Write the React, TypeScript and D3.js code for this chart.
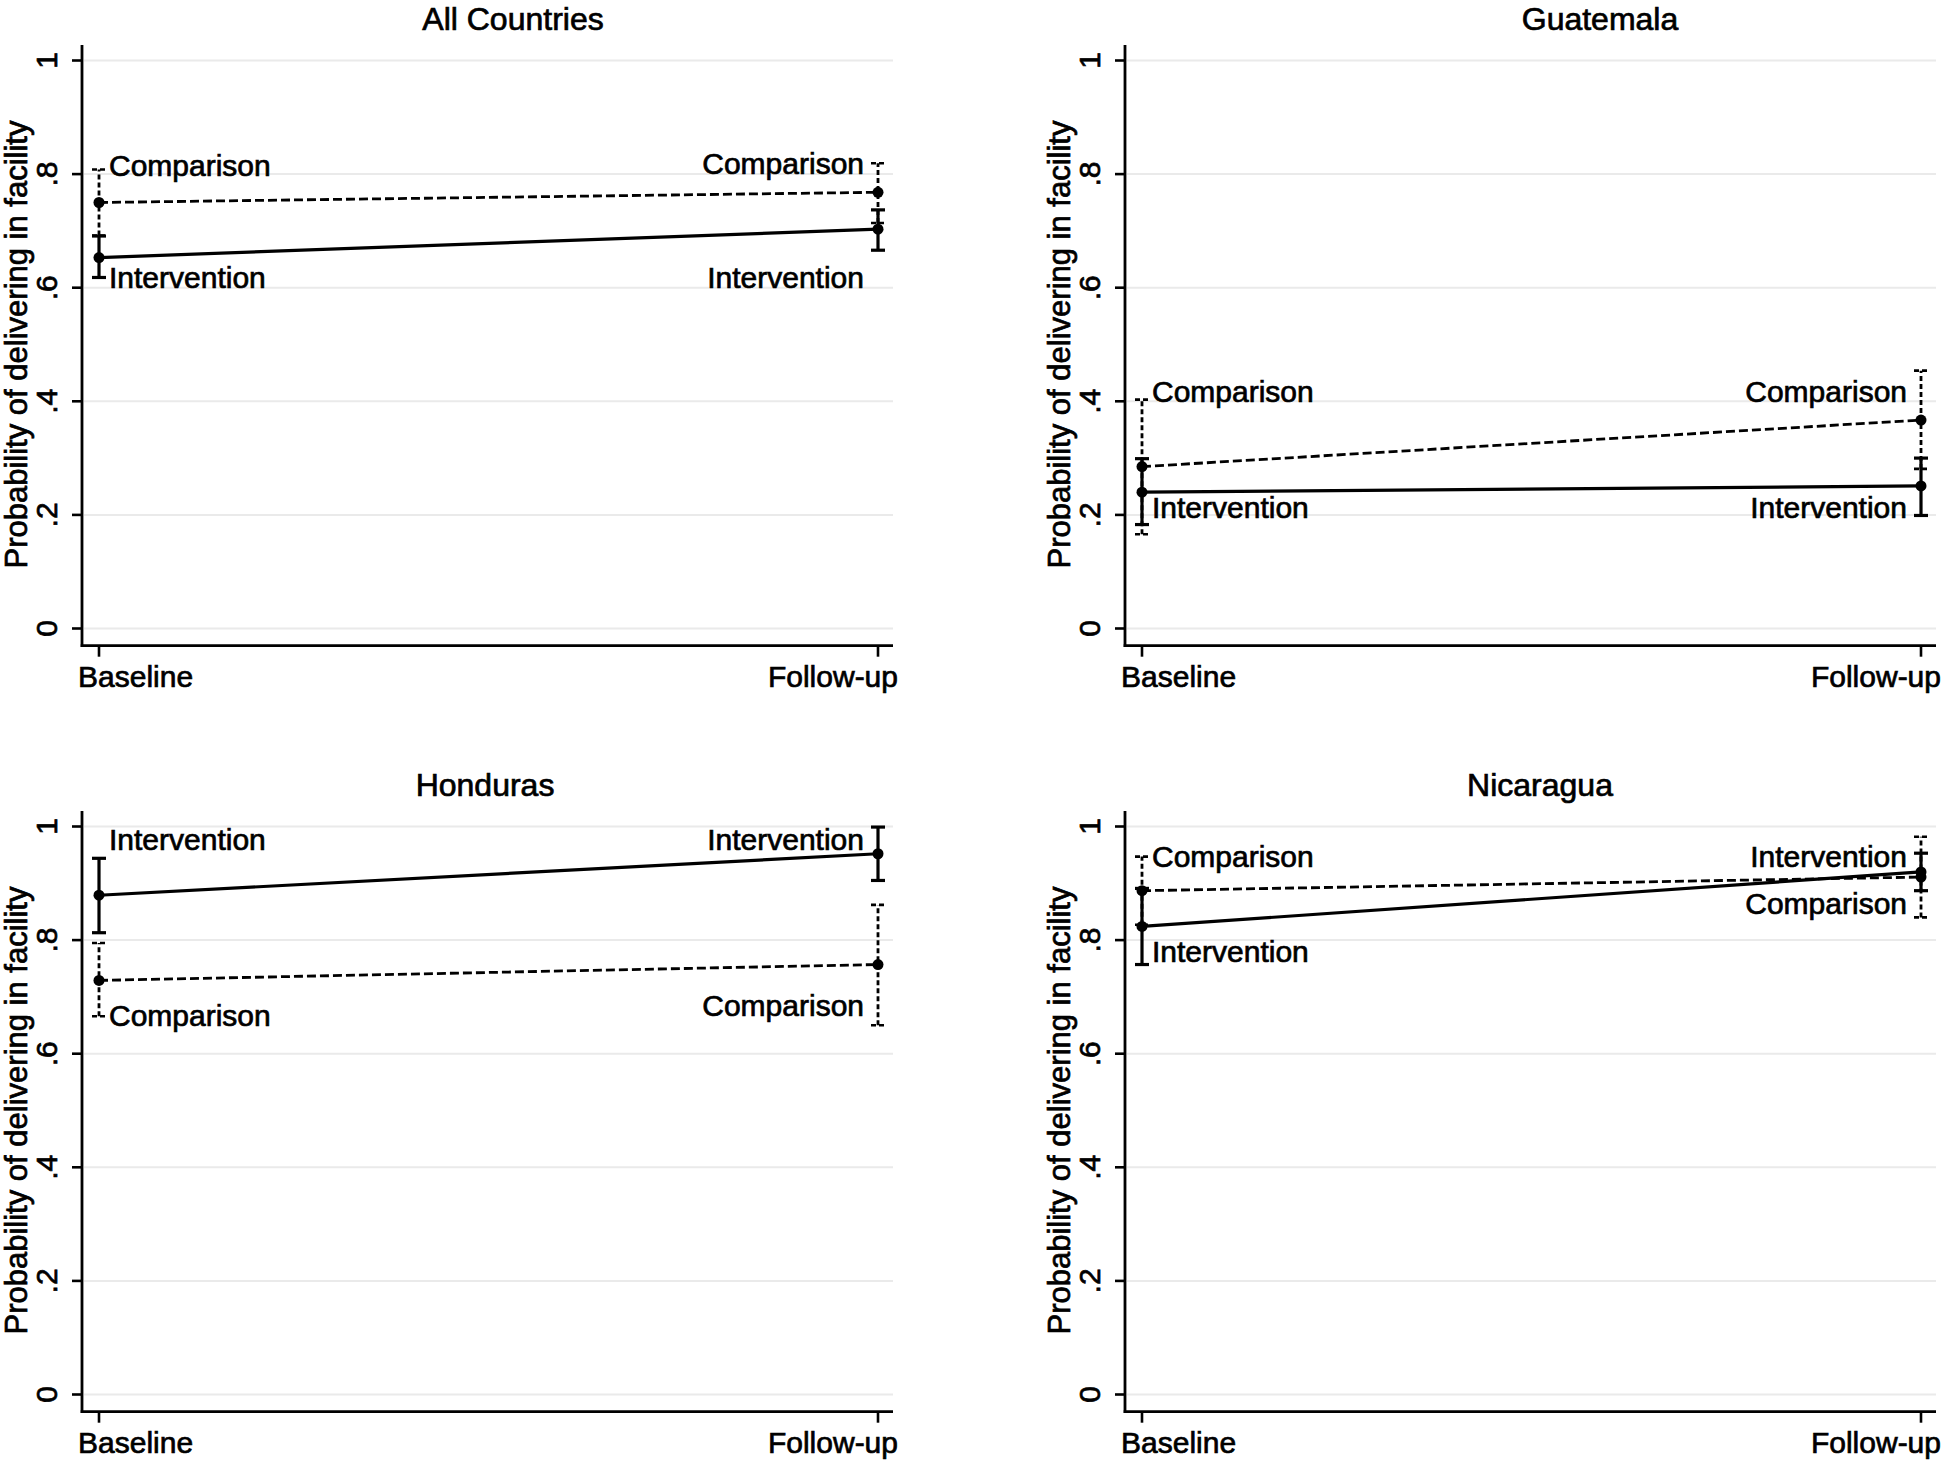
import React from "react";
import * as d3 from "d3";

// ---- data ----
const panelTitles = ["All Countries", "Guatemala", "Honduras", "Nicaragua"];
const periods = ["Baseline", "Follow-up"];
const groupNames = ["Intervention", "Comparison"];
const yTicks = [0, 0.2, 0.4, 0.6, 0.8, 1];

const interventionMean = [[0.653, 0.703], [0.240, 0.251], [0.879, 0.952], [0.824, 0.920]];
const interventionLow = [[0.618, 0.666], [0.183, 0.199], [0.813, 0.905], [0.757, 0.887]];
const interventionHigh = [[0.691, 0.737], [0.299, 0.300], [0.944, 0.999], [0.891, 0.953]];

const comparisonMean = [[0.750, 0.768], [0.285, 0.367], [0.729, 0.757], [0.887, 0.911]];
const comparisonLow = [[0.692, 0.714], [0.166, 0.281], [0.666, 0.650], [0.827, 0.840]];
const comparisonHigh = [[0.808, 0.819], [0.403, 0.454], [0.795, 0.862], [0.947, 0.982]];

// where each marker label sits (in probability units)
const interventionLabelAt = [[0.619, 0.619], [0.213, 0.214], [0.977, 0.977], [0.780, 0.947]];
const comparisonLabelAt = [[0.816, 0.820], [0.417, 0.417], [0.668, 0.686], [0.947, 0.865]];

// ---- layout ----
const W = 1952;
const H = 1460;
const FONT = "'Liberation Sans', Arial, Helvetica, sans-serif";
const panelOrigin = [
  [0, 0],
  [1043, 0],
  [0, 766],
  [1043, 766],
];
const titleCenter = [513, 1600, 485, 1540];
const AXIS_X = 82;
const PLOT_RIGHT = 893;
const Y_TOP_AXIS = 45;
const X_AXIS_Y = 645.7;
const TEXT_STROKE = 0.7;

const yScale = d3.scaleLinear().domain([0, 1]).range([628.5, 60.5]);
const xScale = d3.scaleLinear().domain([0, 1]).range([99, 878]);

const fmtTick = (v: number) => {
  if (v === 0) return "0";
  if (v === 1) return "1";
  return d3.format(".1f")(v).replace(/^0/, "");
};

const lineGen = d3
  .line<[number, number]>()
  .x((d) => xScale(d[0]))
  .y((d) => yScale(d[1]));

type Series = {
  name: string;
  mean: number[];
  low: number[];
  high: number[];
  labelAt: number[];
  dashed: boolean;
};

const txt = {
  fontFamily: FONT,
  fill: "#000",
  stroke: "#000",
  strokeWidth: TEXT_STROKE,
} as const;

function Panel({ idx }: { idx: number }) {
  const [ox, oy] = panelOrigin[idx];
  const series: Series[] = [
    {
      name: groupNames[1],
      mean: comparisonMean[idx],
      low: comparisonLow[idx],
      high: comparisonHigh[idx],
      labelAt: comparisonLabelAt[idx],
      dashed: true,
    },
    {
      name: groupNames[0],
      mean: interventionMean[idx],
      low: interventionLow[idx],
      high: interventionHigh[idx],
      labelAt: interventionLabelAt[idx],
      dashed: false,
    },
  ];
  return (
    <g transform={`translate(${ox},${oy})`}>
      {/* title */}
      <text x={titleCenter[idx] - ox} y={30} textAnchor="middle" fontSize={32} {...txt}>
        {panelTitles[idx]}
      </text>
      {/* gridlines */}
      {yTicks.map((t) => (
        <line
          key={"g" + t}
          x1={AXIS_X + 2}
          x2={PLOT_RIGHT}
          y1={yScale(t)}
          y2={yScale(t)}
          stroke="#eaeaea"
          strokeWidth={2}
        />
      ))}
      {/* y axis */}
      <line x1={AXIS_X} x2={AXIS_X} y1={Y_TOP_AXIS} y2={X_AXIS_Y + 1.3} stroke="#000" strokeWidth={2.8} />
      {yTicks.map((t) => (
        <g key={"t" + t}>
          <line x1={AXIS_X - 10} x2={AXIS_X} y1={yScale(t)} y2={yScale(t)} stroke="#000" strokeWidth={2.6} />
          <text
            transform={`translate(${AXIS_X - 25},${yScale(t)}) rotate(-90)`}
            textAnchor="middle"
            fontSize={30}
            {...txt}
          >
            {fmtTick(t)}
          </text>
        </g>
      ))}
      {/* y title */}
      <text
        transform={`translate(${AXIS_X - 55},${(yScale(0) + yScale(1)) / 2}) rotate(-90)`}
        textAnchor="middle"
        fontSize={31}
        {...txt}
      >
        Probability of delivering in facility
      </text>
      {/* x axis */}
      <line x1={AXIS_X - 1.3} x2={PLOT_RIGHT} y1={X_AXIS_Y} y2={X_AXIS_Y} stroke="#000" strokeWidth={2.8} />
      {periods.map((p, i) => (
        <g key={p}>
          <line
            x1={xScale(i)}
            x2={xScale(i)}
            y1={X_AXIS_Y}
            y2={X_AXIS_Y + 11}
            stroke="#000"
            strokeWidth={2.6}
          />
          <text
            x={i === 0 ? xScale(i) - 21 : xScale(i) + 20}
            y={687}
            textAnchor={i === 0 ? "start" : "end"}
            fontSize={30}
            {...txt}
          >
            {p}
          </text>
        </g>
      ))}
      {/* series */}
      {series.map((s) => {
        const pts: [number, number][] = s.mean.map((m, i) => [i, m]);
        return (
          <g key={s.name}>
            <path
              d={lineGen(pts) || ""}
              fill="none"
              stroke="#000"
              strokeWidth={s.dashed ? 2.8 : 3.2}
              strokeDasharray={s.dashed ? "9,4" : undefined}
            />
            {s.mean.map((m, i) => {
              const x = xScale(i);
              return (
                <g key={i}>
                  <line
                    x1={x}
                    x2={x}
                    y1={yScale(s.low[i])}
                    y2={yScale(s.high[i])}
                    stroke="#000"
                    strokeWidth={s.dashed ? 2.8 : 3.2}
                    strokeDasharray={s.dashed ? "5,3" : undefined}
                  />
                  {[s.low[i], s.high[i]].map((c, k) => (
                    <line
                      key={k}
                      x1={x - 7}
                      x2={x + 7}
                      y1={yScale(c)}
                      y2={yScale(c)}
                      stroke="#000"
                      strokeWidth={s.dashed ? 2.6 : 3.2}
                      strokeDasharray={s.dashed ? "5,3" : undefined}
                    />
                  ))}
                  <circle cx={x} cy={yScale(m)} r={5.5} fill="#000" />
                  <text
                    x={i === 0 ? x + 10 : x - 14}
                    y={yScale(s.labelAt[i])}
                    dy="0.36em"
                    textAnchor={i === 0 ? "start" : "end"}
                    fontSize={30}
                    {...txt}
                  >
                    {s.name}
                  </text>
                </g>
              );
            })}
          </g>
        );
      })}
    </g>
  );
}

export default function App() {
  return (
    <svg
      width={W}
      height={H}
      viewBox={`0 0 ${W} ${H}`}
      style={{ position: "absolute", left: 0, top: 0, background: "#fff" }}
    >
      <rect x={0} y={0} width={W} height={H} fill="#fff" />
      {panelTitles.map((_, i) => (
        <Panel key={i} idx={i} />
      ))}
    </svg>
  );
}
